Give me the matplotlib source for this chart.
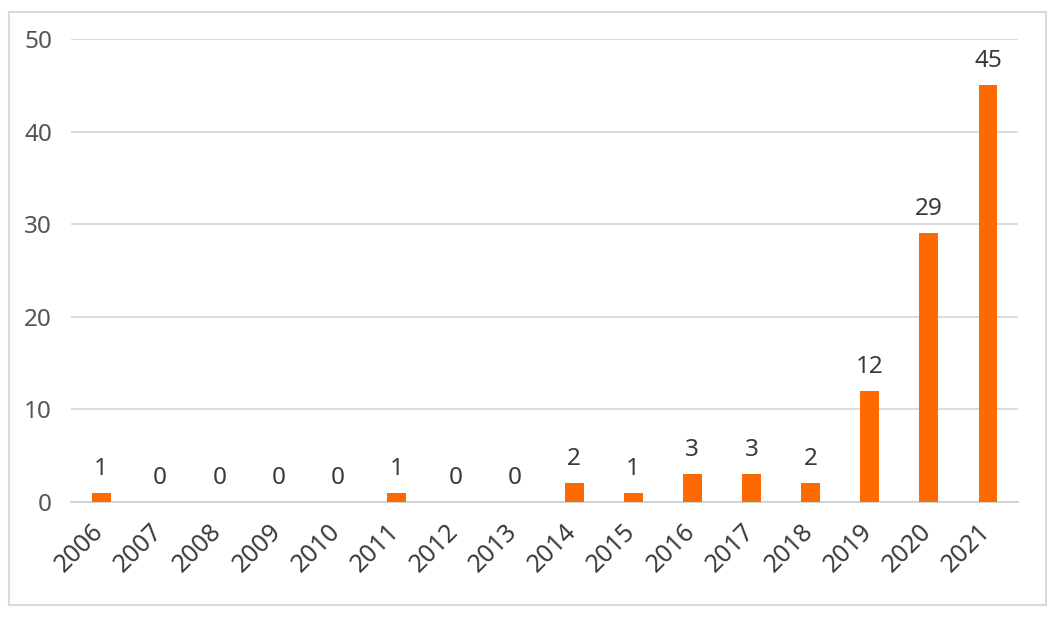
import matplotlib.pyplot as plt
from matplotlib.patches import Rectangle
from matplotlib.transforms import ScaledTranslation

# yearly counts
years = ['2006', '2007', '2008', '2009', '2010', '2011', '2012', '2013',
         '2014', '2015', '2016', '2017', '2018', '2019', '2020', '2021']
counts = [1, 0, 0, 0, 0, 1, 0, 0, 2, 1, 3, 3, 2, 12, 29, 45]
yticks = [0, 10, 20, 30, 40, 50]

plt.rcParams['font.family'] = ['Noto Sans', 'DejaVu Sans']

fig = plt.figure(figsize=(10.56, 6.2), dpi=100)
ax = fig.add_axes([0.0677, 0.1903, 0.8959, 0.7468])

# outer light frame
fig.patches.append(Rectangle((9 / 1056, 1 - 605 / 620), 1037 / 1056, 593 / 620,
                             transform=fig.transFigure, fill=False,
                             edgecolor='#d9d9d9', linewidth=1.5))

x = range(len(years))
bars = ax.bar(x, counts, width=0.32, color='#ff6a00', zorder=3)
for xi, v in zip(x, counts):
    ax.text(xi, v + 1.3, str(v), ha='center', va='bottom',
            fontsize=17.5, color='#3a3a3a')

ax.set_xlim(-0.5, len(years) - 0.5)
ax.set_ylim(0, 50)
ax.set_yticks(yticks)
ax.set_xticks(list(x))
ax.set_xticklabels(years, rotation=45, ha='right', rotation_mode='anchor')
ax.tick_params(axis='x', length=0, pad=12, labelsize=18, labelcolor='#3a3a3a')
ax.tick_params(axis='y', length=0, pad=14, labelsize=17.5, labelcolor='#555555')
shift = ScaledTranslation(-0.1, 0, fig.dpi_scale_trans)
for lab in ax.get_xticklabels():
    lab.set_transform(lab.get_transform() + shift)
ax.grid(axis='y', color='#d9d9d9', linewidth=1.3, zorder=0)
for s in ['top', 'right', 'left']:
    ax.spines[s].set_visible(False)
ax.spines['bottom'].set_color('#d0d0d0')
ax.spines['bottom'].set_linewidth(1.3)

fig.savefig('out.png', dpi=100)
